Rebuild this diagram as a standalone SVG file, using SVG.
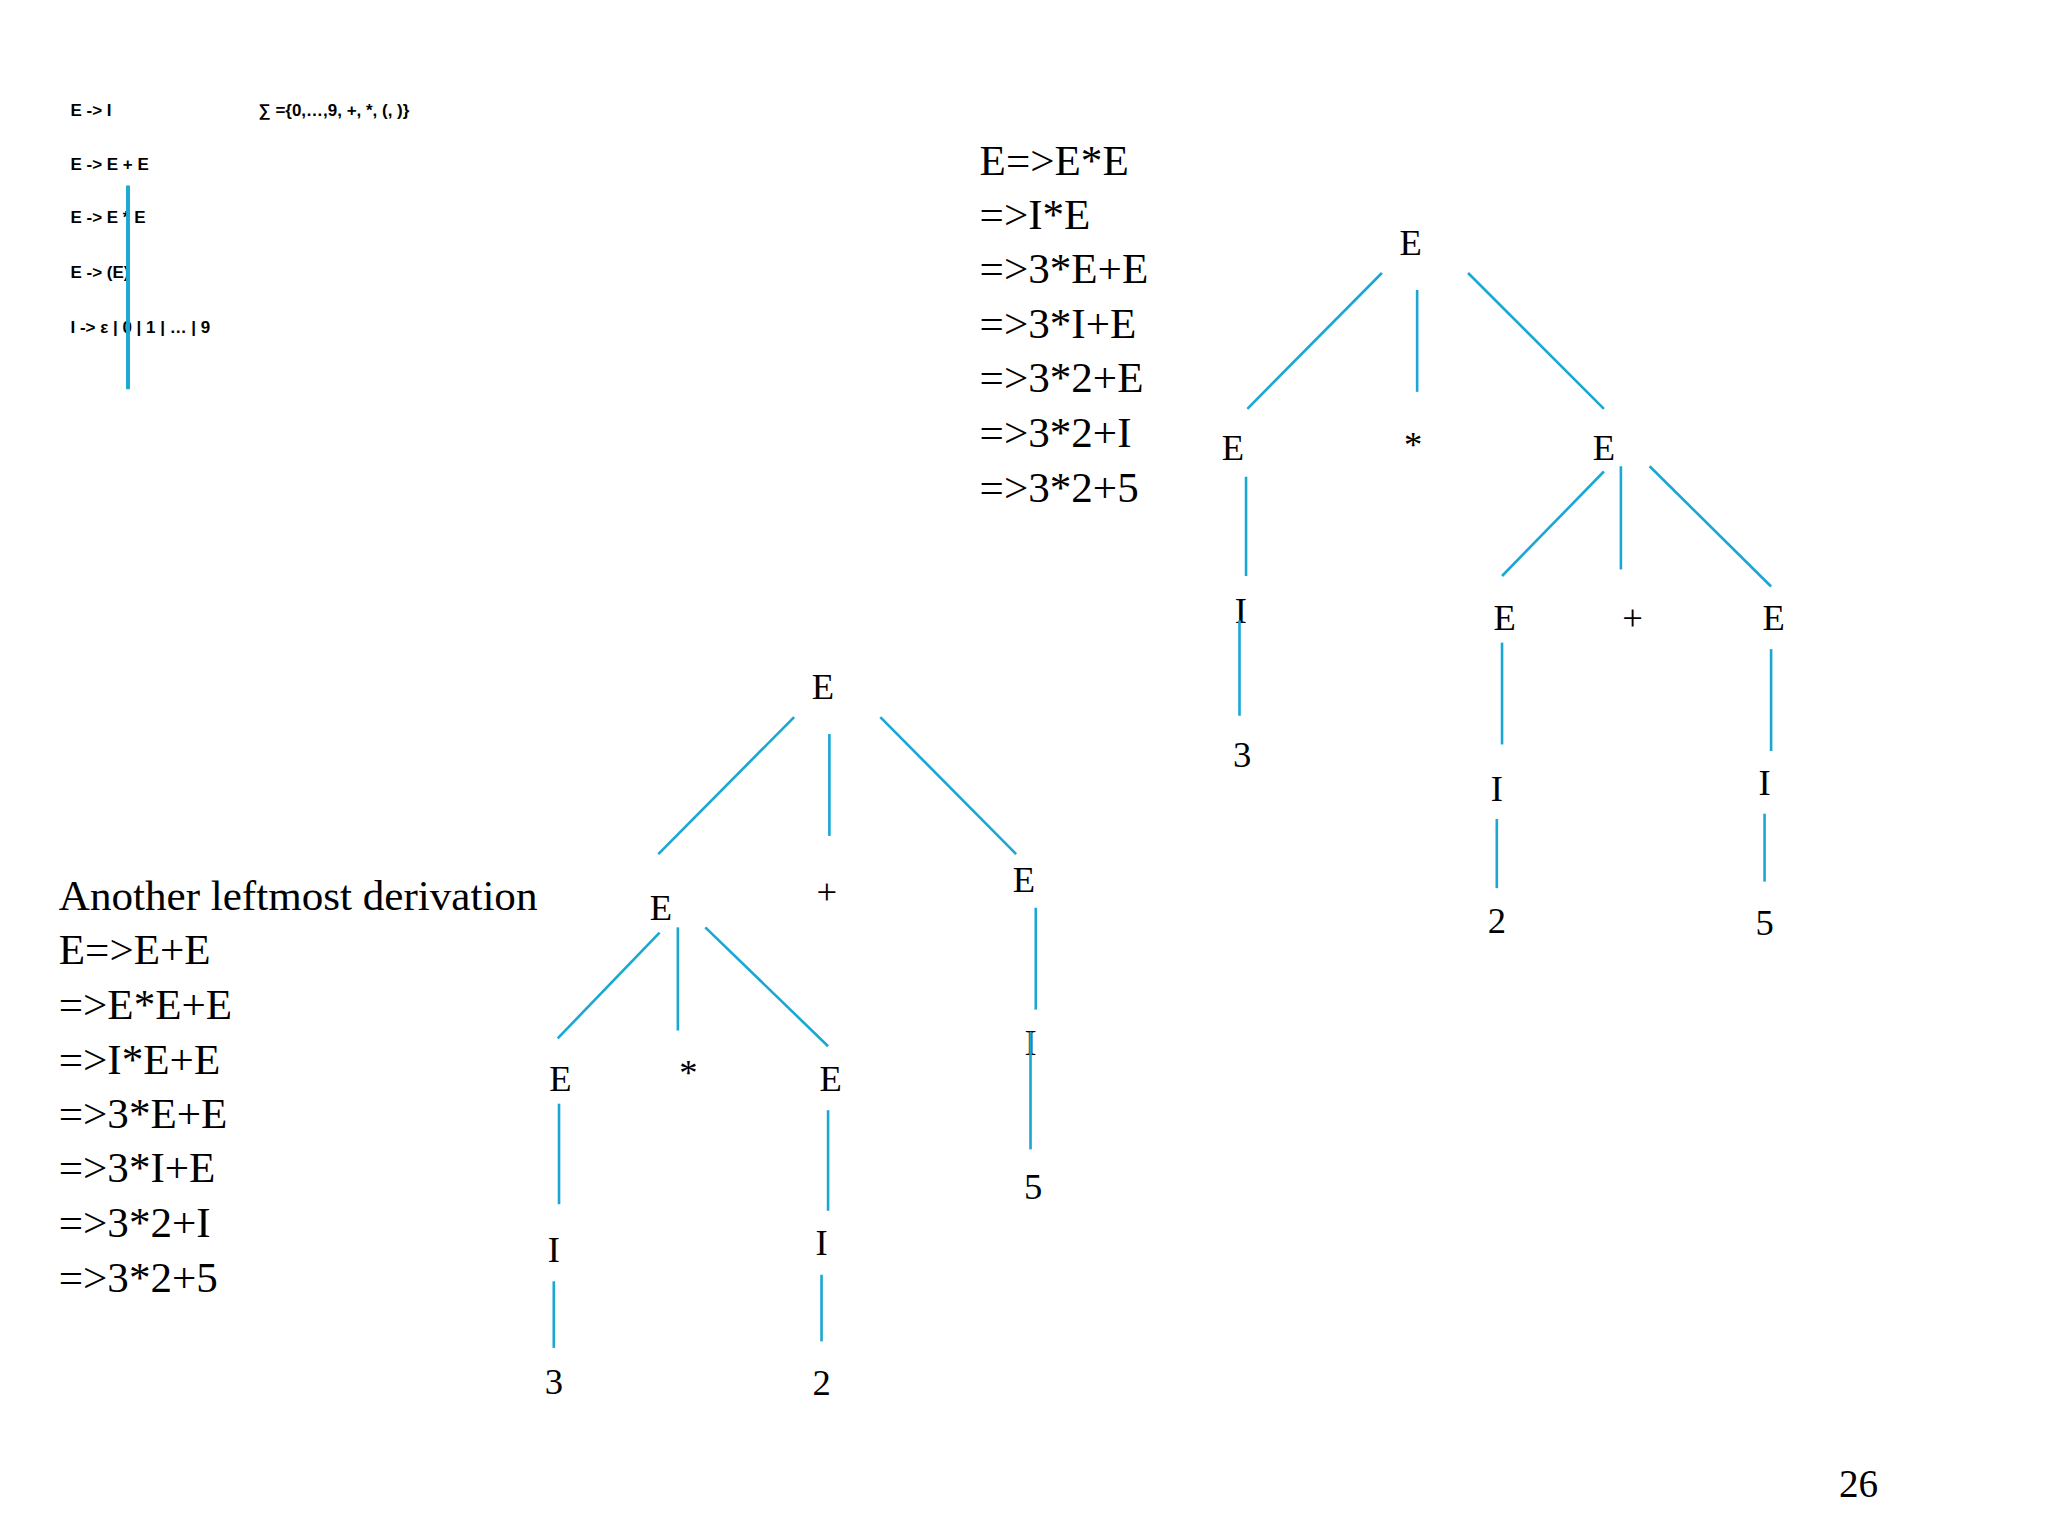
<svg xmlns="http://www.w3.org/2000/svg" width="2048" height="1536" viewBox="0 0 2048 1536">
<style>
.s{font-family:"Liberation Sans",Arial,sans-serif;font-weight:bold;font-size:13px;fill:#000}
.d{font-family:"Liberation Serif","Times New Roman",serif;font-size:33px;fill:#000}
.n{font-family:"Liberation Serif","Times New Roman",serif;font-size:28px;fill:#000;text-anchor:middle}
.c line{stroke:#1AA7D4;stroke-width:2}
</style>
<rect width="2048" height="1536" fill="#fff"/>
<g transform="scale(1.30612)">
<g id="grammar">
<text class="s" x="54" y="89">E -&gt; I</text>
<text class="s" x="198" y="89">∑ ={0,…,9, +, *, (, )}</text>
<text class="s" x="54" y="130">E -&gt; E + E</text>
<text class="s" x="54" y="171">E -&gt; E * E</text>
<text class="s" x="54" y="213">E -&gt; (E)</text>
<text class="s" x="54" y="255">I -&gt; ε | 0 | 1 | … | 9</text>
<line x1="98" y1="142" x2="98" y2="298" stroke="#1AA7D4" stroke-width="3"/>
</g>
<g id="deriv1">
<text class="d" x="750" y="134">E=&gt;E*E</text>
<text class="d" x="750" y="175">=&gt;I*E</text>
<text class="d" x="750" y="217">=&gt;3*E+E</text>
<text class="d" x="750" y="259">=&gt;3*I+E</text>
<text class="d" x="750" y="300">=&gt;3*2+E</text>
<text class="d" x="750" y="342">=&gt;3*2+I</text>
<text class="d" x="750" y="384">=&gt;3*2+5</text>
</g>
<g id="deriv2">
<text class="d" x="45" y="697">Another leftmost derivation</text>
<text class="d" x="45" y="738">E=&gt;E+E</text>
<text class="d" x="45" y="780">=&gt;E*E+E</text>
<text class="d" x="45" y="822">=&gt;I*E+E</text>
<text class="d" x="45" y="864">=&gt;3*E+E</text>
<text class="d" x="45" y="905">=&gt;3*I+E</text>
<text class="d" x="45" y="947">=&gt;3*2+I</text>
<text class="d" x="45" y="989">=&gt;3*2+5</text>
</g>
<g id="tree1">
<text class="n" x="1080" y="195">E</text>
<text class="n" x="944" y="352">E</text>
<text class="n" x="1082" y="350">*</text>
<text class="n" x="1228" y="352">E</text>
<text class="n" x="950" y="477">I</text>
<text class="n" x="951" y="587">3</text>
<text class="n" x="1152" y="482">E</text>
<text class="n" x="1250" y="482">+</text>
<text class="n" x="1358" y="482">E</text>
<text class="n" x="1146" y="613">I</text>
<text class="n" x="1146" y="714">2</text>
<text class="n" x="1351" y="609">I</text>
<text class="n" x="1351" y="716">5</text>
</g>
<g id="tree2">
<text class="n" x="630" y="535">E</text>
<text class="n" x="506" y="704">E</text>
<text class="n" x="633" y="692">+</text>
<text class="n" x="784" y="683">E</text>
<text class="n" x="429" y="835">E</text>
<text class="n" x="527" y="831">*</text>
<text class="n" x="636" y="835">E</text>
<text class="n" x="424" y="966">I</text>
<text class="n" x="424" y="1067">3</text>
<text class="n" x="629" y="961">I</text>
<text class="n" x="629" y="1068">2</text>
<text class="n" x="789" y="808">I</text>
<text class="n" x="791" y="918">5</text>
</g>
<g id="connectors" class="c">
<line x1="1058" y1="209" x2="955" y2="313"/>
<line x1="1085" y1="222" x2="1085" y2="300"/>
<line x1="1124" y1="209" x2="1228" y2="313"/>
<line x1="954" y1="365" x2="954" y2="441"/>
<line x1="949" y1="475" x2="949" y2="548"/>
<line x1="1228" y1="361" x2="1150" y2="441"/>
<line x1="1241" y1="357" x2="1241" y2="436"/>
<line x1="1263" y1="357" x2="1356" y2="449"/>
<line x1="1150" y1="492" x2="1150" y2="570"/>
<line x1="1146" y1="627" x2="1146" y2="680"/>
<line x1="1356" y1="497" x2="1356" y2="575"/>
<line x1="1351" y1="623" x2="1351" y2="675"/>
<line x1="608" y1="549" x2="504" y2="654"/>
<line x1="635" y1="562" x2="635" y2="640"/>
<line x1="674" y1="549" x2="778" y2="654"/>
<line x1="505" y1="714" x2="427" y2="795"/>
<line x1="519" y1="710" x2="519" y2="789"/>
<line x1="540" y1="710" x2="634" y2="801"/>
<line x1="428" y1="845" x2="428" y2="922"/>
<line x1="424" y1="981" x2="424" y2="1032"/>
<line x1="634" y1="850" x2="634" y2="927"/>
<line x1="629" y1="976" x2="629" y2="1027"/>
<line x1="793" y1="695" x2="793" y2="773"/>
<line x1="789" y1="790" x2="789" y2="880"/>
</g>
<text class="d" x="1408" y="1146" style="font-size:30px">26</text>
</g>
</svg>
